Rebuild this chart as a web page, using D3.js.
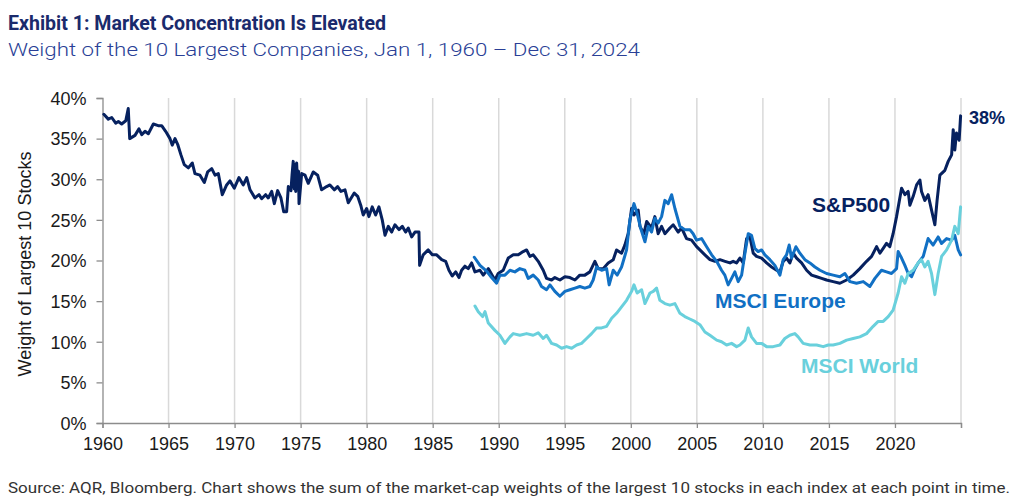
<!DOCTYPE html>
<html>
<head>
<meta charset="utf-8">
<script src="https://cdn.jsdelivr.net/npm/d3@7"></script>
<style>
  html, body { margin: 0; padding: 0; background: #ffffff; }
  svg { display: block; }
</style>
</head>
<body>
<svg id="chart" width="1024" height="502"></svg>
<script>
// ---------- DATA ----------
const titleText = "Exhibit 1: Market Concentration Is Elevated";
const subtitleText = "Weight of the 10 Largest Companies, Jan 1, 1960 \u2013 Dec 31, 2024";
const sourceText = "Source: AQR, Bloomberg. Chart shows the sum of the market-cap weights of the largest 10 stocks in each index at each point in time.";
const yAxisTitle = "Weight of Largest 10 Stocks";

const yTicks = [0, 5, 10, 15, 20, 25, 30, 35, 40];
const xTickYears = [1960, 1965, 1970, 1975, 1980, 1985, 1990, 1995, 2000, 2005, 2010, 2015, 2020, 2025];
const xTickLabels = ["1960", "1965", "1970", "1975", "1980", "1985", "1990", "1995", "2000", "2005", "2010", "2015", "2020", ""];
const gridYears = [1965, 1970, 1975, 1980, 1985, 1990, 1995, 2000, 2005, 2010, 2015, 2020, 2025];

const seriesNames = ["S&P500", "MSCI Europe", "MSCI World"];
const endLabel = "38%";

// [year, weight %]
const sp500 = [
  [1960.10,38.0],[1960.44,37.4],[1960.70,37.6],[1961.00,36.9],[1961.20,37.1],[1961.45,36.8],[1961.76,37.2],
  [1961.95,38.7],[1962.06,35.0],[1962.46,35.4],[1962.76,36.2],[1962.97,35.5],[1963.22,35.9],[1963.47,35.6],
  [1963.85,36.8],[1964.22,36.6],[1964.48,36.6],[1964.78,35.9],[1965.11,35.0],[1965.28,34.2],[1965.49,35.0],
  [1965.69,34.3],[1965.94,33.0],[1966.19,31.8],[1966.50,31.4],[1966.80,32.0],[1967.00,30.7],[1967.38,30.5],
  [1967.71,29.6],[1967.96,30.9],[1968.27,31.3],[1968.52,30.5],[1968.77,30.7],[1969.07,28.1],[1969.40,29.3],
  [1969.65,29.8],[1969.98,28.9],[1970.33,30.2],[1970.66,29.3],[1970.92,30.2],[1971.17,28.7],[1971.54,27.7],
  [1971.85,28.1],[1972.05,27.6],[1972.35,28.1],[1972.55,27.7],[1972.81,28.5],[1973.01,27.0],[1973.26,28.6],
  [1973.51,27.7],[1973.72,26.0],[1973.94,26.0],[1974.07,29.1],[1974.27,28.6],[1974.35,30.5],[1974.44,32.2],
  [1974.52,28.8],[1974.57,31.8],[1974.63,28.5],[1974.70,32.0],[1974.78,29.0],[1974.84,31.0],[1974.88,27.0],
  [1975.08,30.7],[1975.33,30.5],[1975.58,29.5],[1975.96,30.9],[1976.29,30.5],[1976.59,28.7],[1976.97,29.1],
  [1977.22,29.3],[1977.55,28.7],[1977.80,29.1],[1978.05,28.5],[1978.36,28.7],[1978.61,27.1],[1979.06,28.3],
  [1979.32,27.9],[1979.57,26.7],[1979.74,25.6],[1980.00,26.4],[1980.17,25.4],[1980.42,26.6],[1980.68,25.6],
  [1980.93,26.6],[1981.18,25.0],[1981.39,23.1],[1981.64,24.2],[1981.89,23.5],[1982.14,24.4],[1982.45,23.8],
  [1982.70,24.2],[1982.95,23.5],[1983.15,24.0],[1983.41,22.9],[1983.66,23.5],[1983.96,23.5],[1984.01,19.4],
  [1984.28,20.7],[1984.66,21.3],[1984.97,20.7],[1985.30,20.7],[1985.68,20.1],[1985.98,19.9],[1986.23,18.8],
  [1986.48,18.1],[1986.74,18.6],[1986.99,17.9],[1987.19,18.8],[1987.44,19.3],[1987.69,19.0],[1987.95,19.7],
  [1988.20,18.6],[1988.58,18.8],[1988.83,18.2],[1989.21,19.0],[1989.71,17.6],[1989.96,18.4],[1990.34,18.8],
  [1990.72,20.3],[1991.10,20.7],[1991.48,20.7],[1991.85,21.1],[1992.11,21.3],[1992.36,20.5],[1992.61,20.7],
  [1992.99,19.9],[1993.37,18.8],[1993.62,17.8],[1994.00,17.6],[1994.25,17.9],[1994.63,17.6],[1995.01,18.0],
  [1995.39,17.9],[1995.77,17.6],[1996.14,18.2],[1996.52,18.2],[1996.90,18.6],[1997.28,19.9],[1997.53,19.0],
  [1997.91,19.0],[1998.29,19.7],[1998.67,20.1],[1998.92,21.3],[1999.30,20.9],[1999.55,21.9],[1999.80,23.3],
  [2000.06,26.4],[2000.24,25.6],[2000.56,26.2],[2000.69,24.2],[2000.99,23.3],[2001.20,24.8],[2001.57,24.0],
  [2001.82,25.4],[2002.07,23.3],[2002.33,24.2],[2002.58,23.3],[2002.96,24.0],[2003.21,24.4],[2003.59,23.5],
  [2003.85,24.0],[2004.22,22.7],[2004.60,22.5],[2004.98,21.7],[2005.23,21.3],[2005.61,20.7],[2005.99,20.1],
  [2006.37,19.9],[2006.75,20.1],[2007.13,19.9],[2007.51,19.7],[2007.75,19.9],[2008.01,19.7],[2008.26,20.3],
  [2008.51,19.7],[2008.77,22.7],[2009.02,22.9],[2009.27,20.9],[2009.52,20.5],[2009.90,20.3],[2010.28,19.7],
  [2010.66,19.2],[2011.04,18.8],[2011.29,18.6],[2011.54,19.9],[2011.79,20.3],[2012.04,19.7],[2012.30,20.9],
  [2012.55,20.3],[2012.93,19.7],[2013.31,18.8],[2013.69,18.2],[2014.07,18.0],[2014.45,17.8],[2014.82,17.6],
  [2015.32,17.4],[2015.83,17.2],[2016.34,17.6],[2016.84,18.2],[2017.34,19.0],[2017.85,19.9],[2018.23,20.5],
  [2018.61,21.7],[2018.86,20.9],[2019.11,21.5],[2019.36,22.1],[2019.61,21.7],[2019.86,23.3],[2020.12,25.4],
  [2020.50,28.9],[2020.75,28.1],[2021.00,28.5],[2021.13,26.8],[2021.38,27.9],[2021.64,29.3],[2021.89,29.9],
  [2022.01,28.5],[2022.26,27.4],[2022.51,28.1],[2022.77,26.2],[2023.02,24.4],[2023.19,27.4],[2023.40,30.5],
  [2023.78,31.1],[2024.03,32.2],[2024.29,33.0],[2024.41,36.1],[2024.53,33.6],[2024.66,35.7],[2024.86,34.8],
  [2024.97,37.8]
];

const msciEurope = [
  [1988.15,20.4],[1988.58,19.4],[1989.08,18.7],[1989.46,17.9],[1989.84,17.2],[1990.09,18.2],[1990.47,18.2],
  [1990.85,18.8],[1991.22,18.6],[1991.60,19.0],[1991.98,18.8],[1992.23,17.8],[1992.61,18.2],[1992.99,17.6],
  [1993.24,16.8],[1993.62,16.4],[1993.88,17.0],[1994.25,16.2],[1994.63,15.6],[1995.01,16.2],[1995.39,16.4],
  [1995.77,16.6],[1996.14,16.8],[1996.52,16.6],[1996.90,16.8],[1997.15,17.6],[1997.41,19.2],[1997.79,18.8],
  [1998.17,19.0],[1998.36,17.0],[1998.67,18.8],[1998.97,18.2],[1999.30,19.2],[1999.68,21.3],[1999.93,25.0],
  [2000.24,27.0],[2000.48,25.8],[2000.74,24.0],[2001.07,22.3],[2001.32,24.2],[2001.57,23.5],[2001.82,25.2],
  [2002.07,24.6],[2002.33,25.4],[2002.58,27.4],[2002.83,27.0],[2003.09,28.1],[2003.34,26.4],[2003.72,24.2],
  [2004.09,23.8],[2004.47,23.8],[2004.72,23.3],[2004.98,22.5],[2005.36,22.7],[2005.74,21.7],[2006.12,20.7],
  [2006.50,19.9],[2006.87,18.8],[2007.12,18.2],[2007.37,17.0],[2007.63,17.8],[2007.88,18.6],[2008.13,17.4],
  [2008.39,18.2],[2008.64,20.9],[2008.89,23.3],[2009.14,23.1],[2009.39,21.5],[2009.64,21.1],[2009.90,21.3],
  [2010.15,20.7],[2010.53,20.1],[2010.91,19.4],[2011.29,18.2],[2011.54,20.1],[2011.79,20.7],[2011.99,21.9],
  [2012.17,20.3],[2012.50,21.7],[2012.80,20.9],[2013.18,20.1],[2013.56,19.7],[2013.94,19.2],[2014.32,18.8],
  [2014.82,18.4],[2015.32,18.2],[2015.83,18.0],[2016.21,18.4],[2016.59,17.4],[2017.09,17.2],[2017.60,17.4],
  [2018.10,16.8],[2018.48,17.8],[2018.98,18.8],[2019.36,18.6],[2019.74,18.4],[2020.12,19.0],[2020.24,21.1],
  [2020.50,20.3],[2020.75,19.4],[2021.00,18.4],[2021.26,18.0],[2021.51,19.0],[2021.76,19.7],[2022.14,20.5],
  [2022.51,22.7],[2022.89,21.9],[2023.27,22.9],[2023.53,22.1],[2023.91,22.7],[2024.29,22.5],[2024.53,23.1],
  [2024.79,21.3],[2024.97,20.7]
];

const msciWorld = [
  [1988.20,14.4],[1988.45,13.7],[1988.78,13.1],[1988.96,13.7],[1989.21,12.3],[1989.71,11.4],[1990.09,10.8],
  [1990.47,9.8],[1990.85,10.6],[1991.10,11.0],[1991.60,10.8],[1992.11,11.0],[1992.61,10.8],[1992.99,11.1],
  [1993.37,10.4],[1993.62,10.8],[1994.00,9.8],[1994.38,9.6],[1994.76,9.2],[1995.14,9.4],[1995.52,9.2],
  [1995.90,9.6],[1996.27,9.8],[1996.65,10.4],[1997.03,11.0],[1997.41,11.7],[1997.79,11.7],[1998.17,11.9],
  [1998.55,12.9],[1998.92,13.5],[1999.30,14.3],[1999.68,15.1],[2000.06,16.2],[2000.24,17.0],[2000.48,16.0],
  [2000.82,16.4],[2001.07,14.7],[2001.45,16.0],[2001.70,16.2],[2001.95,16.6],[2002.20,15.1],[2002.58,14.7],
  [2002.96,14.5],[2003.34,14.7],[2003.72,13.5],[2004.09,13.1],[2004.47,12.8],[2004.85,12.5],[2005.23,12.1],
  [2005.61,11.2],[2005.99,10.8],[2006.50,10.2],[2006.87,10.0],[2007.25,9.6],[2007.63,9.8],[2008.01,9.4],
  [2008.26,9.6],[2008.64,10.2],[2008.89,11.7],[2009.14,10.6],[2009.52,9.8],[2009.90,9.8],[2010.28,9.4],
  [2010.78,9.4],[2011.29,9.6],[2011.66,10.4],[2012.04,10.8],[2012.42,11.0],[2012.67,10.6],[2013.05,9.8],
  [2013.56,9.6],[2014.07,9.6],[2014.57,9.4],[2014.95,9.6],[2015.32,9.6],[2015.83,9.8],[2016.34,10.2],
  [2016.84,10.4],[2017.34,10.6],[2017.85,11.0],[2018.35,11.9],[2018.73,12.5],[2019.11,12.5],[2019.49,13.1],
  [2019.86,13.9],[2020.24,16.0],[2020.50,18.0],[2020.75,17.2],[2021.00,18.4],[2021.38,18.8],[2021.76,19.7],
  [2022.01,20.1],[2022.26,19.2],[2022.51,19.9],[2022.77,18.4],[2023.02,15.8],[2023.27,18.4],[2023.53,20.5],
  [2023.91,21.3],[2024.29,22.5],[2024.53,24.2],[2024.79,23.3],[2024.97,26.6]
];

// ---------- STYLE ----------
const colors = { sp: "#06215f", eu: "#1170c4", world: "#69d0dc" };
const svg = d3.select("#chart");
const plot = { left: 102.5, right: 961, top: 98, bottom: 423 };

const x = d3.scaleLinear().domain([1960, 2025]).range([plot.left, plot.right]);
const y = d3.scaleLinear().domain([0, 40]).range([plot.bottom, plot.top]);

// Title & subtitle
svg.append("text").attr("x", 8).attr("y", 30)
  .attr("font-family", "Roboto, 'Noto Sans', sans-serif").attr("font-weight", 700)
  .attr("font-size", 20.5).attr("fill", "#1a2a6c")
  .attr("textLength", 378).attr("lengthAdjust", "spacingAndGlyphs")
  .text(titleText);
svg.append("text").attr("x", 8).attr("y", 56)
  .attr("font-family", "Roboto, 'Noto Sans', sans-serif").attr("font-weight", 300)
  .attr("font-size", 19).attr("fill", "#2a3f96")
  .attr("textLength", 632).attr("lengthAdjust", "spacingAndGlyphs")
  .text(subtitleText);

// Vertical gridlines
svg.append("g").selectAll("line").data(gridYears).join("line")
  .attr("x1", d => x(d)).attr("x2", d => x(d))
  .attr("y1", plot.top).attr("y2", plot.bottom)
  .attr("stroke", "#d9d9d9").attr("stroke-width", 1.5);

// Y axis
const yAxis = d3.axisLeft(y).tickValues(yTicks).tickFormat(d => d + "%").tickSize(6).tickPadding(10);
const gy = svg.append("g").attr("transform", `translate(${plot.left},0)`).call(yAxis);
gy.select(".domain").attr("stroke", "#8c8c8c").attr("stroke-width", 1.3);
gy.selectAll(".tick line").attr("stroke", "#8c8c8c").attr("stroke-width", 1.3);
gy.selectAll(".tick text").attr("font-family", "'Liberation Sans', Arial, sans-serif")
  .attr("font-size", 18).attr("fill", "#1a1a1a").attr("dy", "0.35em");

// X axis
const xAxis = d3.axisBottom(x).tickValues(xTickYears)
  .tickFormat((d, i) => xTickLabels[i]).tickSize(5).tickPadding(9);
const gx = svg.append("g").attr("transform", `translate(0,${plot.bottom})`).call(xAxis);
gx.select(".domain").attr("stroke", "#8c8c8c").attr("stroke-width", 1.3);
gx.selectAll(".tick line").attr("stroke", "#8c8c8c").attr("stroke-width", 1.3);
gx.selectAll(".tick text").attr("font-family", "'Liberation Sans', Arial, sans-serif")
  .attr("font-size", 18).attr("fill", "#1a1a1a");

// Y axis title
svg.append("text")
  .attr("transform", `translate(31,264) rotate(-90)`)
  .attr("text-anchor", "middle")
  .attr("font-family", "'Liberation Sans', Arial, sans-serif")
  .attr("font-size", 18).attr("fill", "#1a1a1a")
  .text(yAxisTitle);

// Lines
const line = d3.line().x(d => x(d[0])).y(d => y(d[1]));
const drawLine = (data, color) => svg.append("path").datum(data)
  .attr("d", line).attr("fill", "none").attr("stroke", color)
  .attr("stroke-width", 3).attr("stroke-linejoin", "round").attr("stroke-linecap", "round");
drawLine(sp500, colors.sp);
drawLine(msciEurope, colors.eu);
drawLine(msciWorld, colors.world);

// Series labels
const lbl = (txt, xx, yy, color, size) => svg.append("text")
  .attr("x", xx).attr("y", yy).attr("font-family", "'Liberation Sans', Arial, sans-serif")
  .attr("font-weight", 700).attr("font-size", size).attr("fill", color).text(txt);
lbl(seriesNames[0], 812, 212, colors.sp, 21);
lbl(seriesNames[1], 715, 308, colors.eu, 21);
lbl(seriesNames[2], 801, 373, colors.world, 21);
lbl(endLabel, 969, 124, colors.sp, 18);

// Source
svg.append("text").attr("x", 8).attr("y", 493)
  .attr("font-family", "Roboto, 'Noto Sans', sans-serif").attr("font-weight", 400)
  .attr("font-size", 15).attr("fill", "#333333")
  .attr("textLength", 1002).attr("lengthAdjust", "spacingAndGlyphs")
  .text(sourceText);
</script>
</body>
</html>
